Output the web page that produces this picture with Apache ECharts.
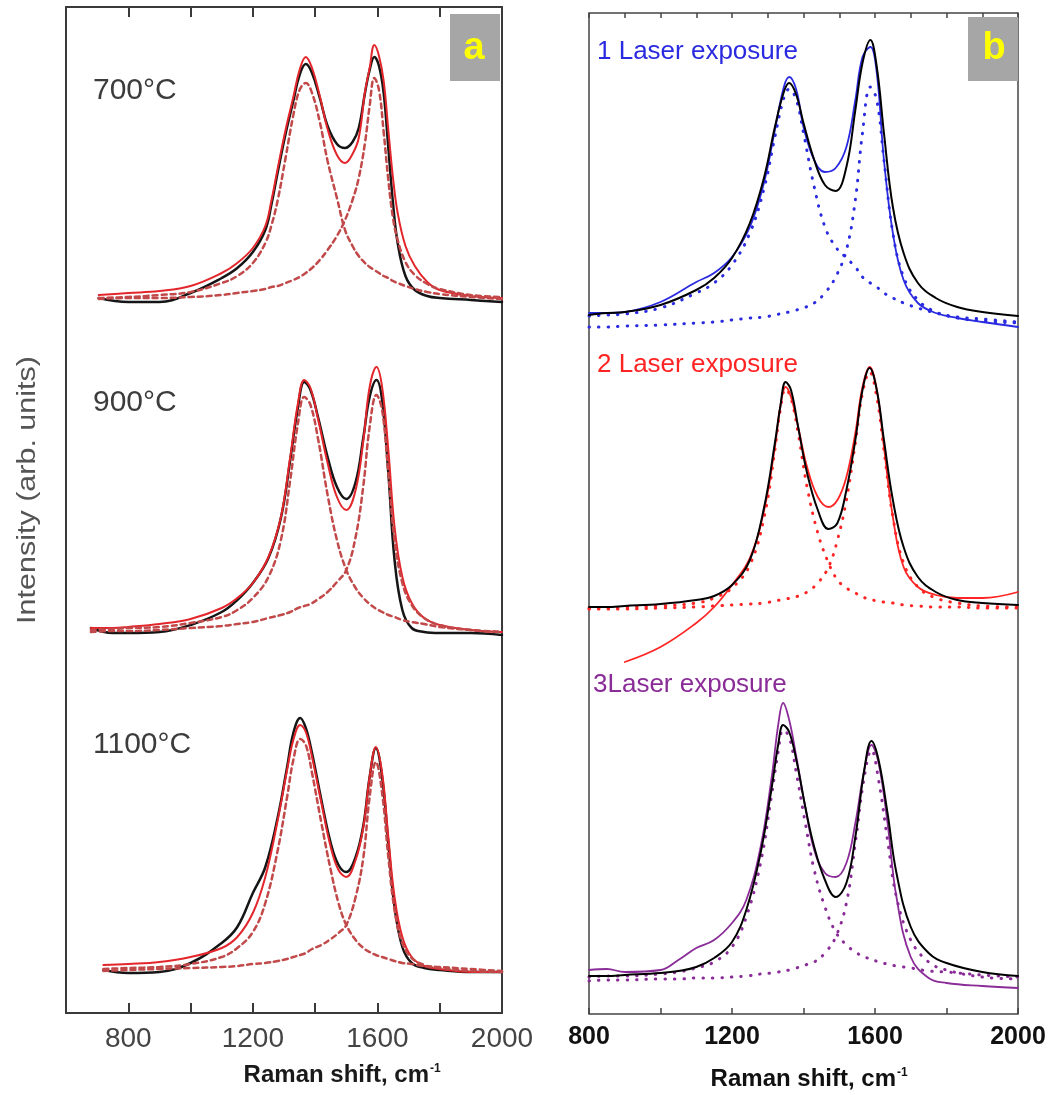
<!DOCTYPE html>
<html>
<head>
<meta charset="utf-8">
<script src="https://cdn.jsdelivr.net/npm/echarts/dist/echarts.min.js"></script>
<style>
  html, body { margin: 0; padding: 0; background: #fff; }
  #chart { width: 1050px; height: 1095px; }
</style>
</head>
<body>
<div id="chart"></div>
<script>
// panel a: annealing temperature (black = measured, red = fit, dashed = D / G bands)
// intensities are arbitrary units read off the picture
const xL1 = [705, 800, 900, 1000, 1100, 1150, 1200, 1240, 1260, 1280, 1305, 1330, 1350, 1370, 1390, 1415, 1440, 1470, 1496, 1520, 1540, 1560, 1575, 1590, 1605, 1620, 1635, 1650, 1665, 1690, 1720, 1760, 1800, 1900, 2000];
const dataL1 = [20, 16, 16, 25, 40, 50, 66, 88, 114, 146, 184, 217, 243, 254, 245, 220, 192, 174, 170, 176, 190, 225, 248, 261, 252, 225, 170, 115, 75, 42, 28, 22, 20, 18, 16];
const fitL1 = [23, 25, 27, 32, 45, 55, 70, 92, 118, 150, 188, 221, 248, 261, 250, 222, 189, 163, 155, 164, 180, 226, 250, 273, 262, 237, 188, 140, 105, 72, 52, 36, 28, 22, 20];
const dBandL1 = [20, 21, 23, 26, 35, 42, 55, 75, 93, 118, 160, 203, 228, 235, 225, 196, 157, 120, 88, 72, 62, 55, 51, 48, 45, 42, 40, 37, 35, 32, 29, 26, 24, 21, 19];
const gBandL1 = [19, 20, 20, 21, 23, 25, 27, 29, 31, 32, 35, 38, 41, 45, 50, 58, 68, 82, 98, 118, 140, 175, 212, 240, 228, 186, 138, 100, 78, 56, 43, 34, 29, 23, 21];

const xL2 = [680, 750, 800, 900, 1000, 1100, 1150, 1200, 1250, 1290, 1320, 1345, 1365, 1385, 1410, 1440, 1470, 1500, 1530, 1555, 1575, 1597, 1615, 1635, 1655, 1680, 1710, 1750, 1800, 1900, 2000];
const dataL2 = [42, 37, 37, 38, 45, 58, 70, 87, 112, 152, 210, 263, 288, 280, 252, 213, 183, 171, 188, 233, 273, 290, 270, 197, 110, 60, 42, 38, 37, 37, 35];
const fitL2 = [42, 42, 43, 46, 51, 62, 72, 87, 113, 153, 213, 267, 290, 282, 250, 207, 173, 160, 180, 230, 283, 303, 283, 220, 143, 93, 67, 52, 45, 40, 38];
const dBandL2 = [40, 41, 42, 43, 47, 53, 60, 72, 93, 130, 190, 247, 273, 265, 230, 175, 130, 100, 82, 72, 66, 61, 58, 55, 53, 50, 48, 46, 43, 40, 38];
const gBandL2 = [38, 39, 39, 40, 42, 44, 46, 48, 52, 55, 58, 62, 64, 66, 71, 78, 88, 100, 133, 185, 243, 275, 260, 197, 130, 87, 65, 52, 45, 40, 38];

const xL3 = [720, 800, 900, 1000, 1100, 1150, 1200, 1240, 1280, 1310, 1330, 1352, 1370, 1390, 1420, 1450, 1475, 1500, 1530, 1555, 1575, 1595, 1615, 1635, 1655, 1680, 1710, 1750, 1800, 1900, 2000];
const dataL3 = [43, 40, 41, 50, 70, 86, 120, 146, 196, 246, 280, 295, 285, 260, 213, 170, 148, 141, 156, 188, 236, 265, 236, 170, 106, 66, 50, 45, 43, 41, 41];
const fitL3 = [48, 49, 51, 56, 65, 76, 100, 136, 193, 243, 273, 288, 281, 256, 210, 166, 143, 136, 153, 186, 236, 266, 240, 176, 116, 76, 56, 47, 44, 41, 41];
const dBandL3 = [44, 45, 46, 49, 56, 65, 81, 110, 163, 216, 253, 274, 268, 240, 190, 143, 110, 88, 73, 65, 61, 58, 56, 54, 52, 50, 49, 47, 46, 44, 42];
const gBandL3 = [42, 43, 44, 45, 46, 47, 49, 50, 52, 54, 56, 58, 60, 64, 68, 74, 80, 88, 116, 156, 216, 251, 220, 156, 103, 70, 55, 48, 45, 42, 41];

// panel b: laser exposures (coloured = measured, black = fit, dotted = D / G bands)
const xR1 = [800, 850, 900, 1000, 1100, 1150, 1200, 1250, 1290, 1320, 1345, 1360, 1380, 1400, 1430, 1460, 1490, 1520, 1545, 1565, 1587, 1605, 1625, 1650, 1680, 1720, 1770, 1830, 1900, 2000];
const fitR1 = [17, 19, 20, 27, 42, 54, 74, 109, 155, 205, 240, 249, 237, 209, 172, 147, 141, 165, 222, 269, 292, 265, 199, 125, 79, 49, 34, 25, 20, 16];
const dataR1 = [19, 19, 20, 30, 50, 59, 75, 105, 150, 202, 245, 255, 242, 205, 172, 160, 164, 185, 232, 275, 285, 259, 172, 99, 52, 29, 19, 14, 10, 5];
const dBandR1 = [16, 17, 18, 24, 39, 49, 67, 99, 144, 195, 234, 243, 232, 199, 145, 105, 85, 74, 65, 55, 49, 45, 39, 34, 29, 24, 19, 15, 13, 10];
const gBandR1 = [5, 5, 6, 7, 9, 10, 12, 14, 15, 17, 19, 20, 22, 24, 29, 39, 55, 82, 132, 199, 245, 232, 172, 99, 55, 32, 20, 14, 11, 9];

const xR2 = [800, 850, 900, 1000, 1100, 1150, 1200, 1250, 1290, 1320, 1335, 1350, 1365, 1385, 1410, 1440, 1470, 1495, 1520, 1545, 1565, 1585, 1605, 1625, 1650, 1680, 1720, 1770, 1830, 1900, 2000];
const fitR2 = [56, 56, 57, 59, 63, 67, 78, 103, 156, 220, 256, 281, 273, 236, 190, 153, 134, 140, 173, 223, 273, 295, 273, 223, 163, 116, 86, 71, 63, 60, 58];
const dataR2 = [null, null, 1, 16, 40, 56, 78, 105, 153, 216, 256, 276, 266, 236, 196, 166, 156, 163, 186, 230, 276, 296, 273, 216, 146, 96, 76, 68, 65, 65, 71];
const dBandR2 = [55, 55, 56, 57, 60, 65, 75, 98, 146, 213, 253, 274, 265, 230, 176, 130, 100, 83, 75, 70, 66, 64, 62, 61, 60, 58, 57, 56, 56, 55, 55];
const gBandR2 = [54, 54, 54, 55, 56, 57, 58, 59, 60, 62, 63, 64, 65, 67, 71, 80, 96, 123, 163, 220, 270, 291, 266, 213, 146, 100, 76, 65, 60, 57, 56];

const xR3 = [800, 850, 900, 1000, 1050, 1100, 1150, 1200, 1240, 1280, 1310, 1330, 1343, 1360, 1380, 1405, 1430, 1460, 1490, 1520, 1545, 1570, 1590, 1610, 1635, 1660, 1700, 1750, 1800, 1900, 2000];
const fitR3 = [38, 38, 39, 41, 43, 47, 56, 72, 104, 161, 224, 271, 289, 282, 254, 207, 167, 134, 117, 131, 177, 244, 273, 254, 201, 141, 87, 61, 51, 42, 38];
const dataR3 = [44, 45, 42, 44, 54, 66, 74, 91, 114, 167, 234, 291, 311, 294, 257, 207, 164, 141, 137, 151, 191, 244, 269, 251, 191, 117, 57, 36, 31, 28, 26];
const dBandR3 = [37, 38, 38, 40, 42, 46, 52, 67, 97, 151, 217, 264, 284, 277, 241, 191, 144, 107, 82, 69, 62, 57, 55, 52, 50, 48, 46, 43, 42, 39, 37];
const gBandR3 = [33, 34, 34, 35, 35, 36, 36, 37, 38, 40, 41, 42, 43, 44, 46, 49, 52, 61, 77, 111, 171, 237, 264, 234, 174, 117, 74, 52, 44, 37, 35];

const tempLabels = ["700°C", "900°C", "1100°C"];
const exposureLabels = ["1 Laser exposure", "2 Laser exposure", "3Laser exposure"];
const tickLabels = [800, 1200, 1600, 2000];

const FONT = "Liberation Sans";

// sub plot boxes (left panel 600-2000, right panel 800-2000)
const boxes = [
  { left: 66, top: 7, width: 436, height: 311, xmin: 600 },
  { left: 66, top: 322, width: 436, height: 348, xmin: 600 },
  { left: 66, top: 672, width: 436, height: 341, xmin: 600 },
  { left: 589, top: 13, width: 429, height: 319, xmin: 800 },
  { left: 589, top: 333, width: 429, height: 330, xmin: 800 },
  { left: 589, top: 665, width: 429, height: 349, xmin: 800 }
];

let myChart = echarts.init(document.getElementById("chart"), null, { renderer: "canvas" });

function mkLine(xs, ys, idx, color, width, dash, z) {
  return {
    type: "line",
    xAxisIndex: idx,
    yAxisIndex: idx,
    data: xs.map((x, i) => [x, ys[i]]),
    symbol: "none",
    smooth: 0.4,
    silent: true,
    z: z || 2,
    lineStyle: { color: color, width: width, type: dash || "solid", cap: "round" }
  };
}

const dashed = [5, 4];
const dots = [0.5, 9];

let grid = boxes.map(b => ({ left: b.left, top: b.top, width: b.width, height: b.height, show: false }));
// frames round each panel
grid.push({ left: 66, top: 7, width: 436, height: 1006, show: true, borderColor: "#3a3a3a", borderWidth: 2, backgroundColor: "transparent" });
grid.push({ left: 589, top: 13, width: 429, height: 1001, show: true, borderColor: "#444", borderWidth: 1.5, backgroundColor: "transparent" });

let xAxis = boxes.map((b, i) => ({ type: "value", gridIndex: i, min: b.xmin, max: 2000, show: false }));
let yAxis = boxes.map((b, i) => ({ type: "value", gridIndex: i, min: 0, max: b.height, show: false }));

function labelFmt(v) {
  return tickLabels.indexOf(v) >= 0 ? String(v) : "";
}

// left frame, bottom + top
xAxis.push({
  type: "value", gridIndex: 6, min: 600, max: 2000, interval: 200, position: "bottom",
  axisLine: { show: false }, splitLine: { show: false },
  axisTick: { show: true, inside: true, length: 10, lineStyle: { color: "#3a3a3a", width: 2 } },
  axisLabel: { show: true, formatter: labelFmt, showMinLabel: false, showMaxLabel: true, margin: 12,
    fontFamily: FONT, fontSize: 28, color: "#444" }
});
xAxis.push({
  type: "value", gridIndex: 6, min: 600, max: 2000, interval: 200, position: "top",
  axisLine: { show: false }, splitLine: { show: false }, axisLabel: { show: false },
  axisTick: { show: true, inside: true, length: 10, lineStyle: { color: "#3a3a3a", width: 2 } }
});
// right frame, bottom + top
xAxis.push({
  type: "value", gridIndex: 7, min: 800, max: 2000, interval: 200, position: "bottom",
  axisLine: { show: false }, splitLine: { show: false },
  axisTick: { show: true, inside: true, length: 6, lineStyle: { color: "#444", width: 1.5 } },
  axisLabel: { show: true, formatter: labelFmt, showMinLabel: true, showMaxLabel: true, margin: 11,
    fontFamily: FONT, fontSize: 25, fontWeight: "bold", color: "#111" }
});
xAxis.push({
  type: "value", gridIndex: 7, min: 800, max: 2000, interval: 100, position: "top",
  axisLine: { show: false }, splitLine: { show: false }, axisLabel: { show: false },
  axisTick: { show: true, inside: true, length: 5, lineStyle: { color: "#444", width: 1.5 } }
});
yAxis.push({ type: "value", gridIndex: 6, show: false });
yAxis.push({ type: "value", gridIndex: 7, show: false });

const black = "#151515";
const red = "#e3262b";
const band = "#c2494a";
const blue = "#2a2ae0";
const red2 = "#ff2424";
const purple = "#8a2c97";

let series = [
  // panel a
  mkLine(xL1, dataL1, 0, black, 2.5), mkLine(xL1, fitL1, 0, red, 2, null, 3),
  mkLine(xL1, dBandL1, 0, band, 2.5, dashed, 4), mkLine(xL1, gBandL1, 0, band, 2.5, dashed, 4),
  mkLine(xL2, dataL2, 1, black, 2.5), mkLine(xL2, fitL2, 1, red, 2, null, 3),
  mkLine(xL2, dBandL2, 1, band, 2.5, dashed, 4), mkLine(xL2, gBandL2, 1, band, 2.5, dashed, 4),
  mkLine(xL3, dataL3, 2, black, 2.5), mkLine(xL3, fitL3, 2, red, 2, null, 3),
  mkLine(xL3, dBandL3, 2, band, 2.5, dashed, 4), mkLine(xL3, gBandL3, 2, band, 2.5, dashed, 4),
  // panel b
  mkLine(xR1, dataR1, 3, blue, 1.8), mkLine(xR1, dBandR1, 3, blue, 3, dots),
  mkLine(xR1, gBandR1, 3, blue, 3, dots), mkLine(xR1, fitR1, 3, "#000", 2, null, 3),
  mkLine(xR2, dataR2, 4, red2, 1.8), mkLine(xR2, dBandR2, 4, red2, 3, dots),
  mkLine(xR2, gBandR2, 4, red2, 3, dots), mkLine(xR2, fitR2, 4, "#000", 2, null, 3),
  mkLine(xR3, dataR3, 5, purple, 1.8), mkLine(xR3, dBandR3, 5, purple, 3, dots),
  mkLine(xR3, gBandR3, 5, purple, 3, dots), mkLine(xR3, fitR3, 5, "#000", 2, null, 3)
];

const tempY = [91, 403, 745];
const expX = [597, 597, 593];
const expY = [52, 365, 685];
const expColor = [blue, red2, purple];

let graphic = [
  { type: "rect", shape: { x: 450, y: 14, width: 50, height: 67 }, style: { fill: "#a6a6a6" }, z: 10 },
  { type: "text", x: 474, y: 49, z: 11, style: { text: "a", fill: "#ffff00", font: "bold 38px " + FONT, align: "center", verticalAlign: "middle" } },
  { type: "rect", shape: { x: 968, y: 17, width: 50, height: 64 }, style: { fill: "#a6a6a6" }, z: 10 },
  { type: "text", x: 994, y: 49, z: 11, style: { text: "b", fill: "#ffff00", font: "bold 38px " + FONT, align: "center", verticalAlign: "middle" } },
  { type: "text", x: 28, y: 490, rotation: Math.PI / 2, scaleX: 1.22, z: 11,
    style: { text: "Intensity (arb. units)", fill: "#555", font: "25px " + FONT, align: "center", verticalAlign: "middle" } },
  { type: "text", x: 429, y: 1075, z: 11, style: { text: "Raman shift, cm", fill: "#1a1a1a", font: "bold 24px " + FONT, align: "right", verticalAlign: "middle" } },
  { type: "text", x: 430, y: 1069, z: 11, style: { text: "-1", fill: "#1a1a1a", font: "bold 12px " + FONT, align: "left", verticalAlign: "middle" } },
  { type: "text", x: 896, y: 1079, z: 11, style: { text: "Raman shift, cm", fill: "#111", font: "bold 24px " + FONT, align: "right", verticalAlign: "middle" } },
  { type: "text", x: 897, y: 1073, z: 11, style: { text: "-1", fill: "#111", font: "bold 12px " + FONT, align: "left", verticalAlign: "middle" } }
];
tempLabels.forEach((t, i) => {
  graphic.push({ type: "text", x: 93, y: tempY[i], z: 11,
    style: { text: t, fill: "#3c3c3c", font: "30px " + FONT, align: "left", verticalAlign: "middle" } });
});
exposureLabels.forEach((t, i) => {
  graphic.push({ type: "text", x: expX[i], y: expY[i], z: 11,
    style: { text: t, fill: expColor[i], font: "26px " + FONT, align: "left", verticalAlign: "middle" } });
});

let option = {
  backgroundColor: "#fff",
  animation: false,
  grid: grid,
  xAxis: xAxis,
  yAxis: yAxis,
  series: series,
  graphic: graphic
};
myChart.setOption(option);
</script>
</body>
</html>
